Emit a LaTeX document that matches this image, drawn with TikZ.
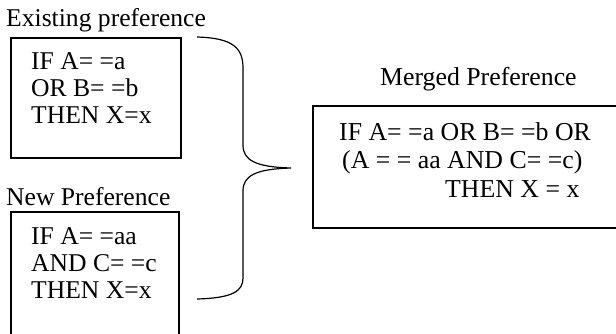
\documentclass[tikz,border=0pt]{standalone}
\usepackage{fontspec}
\setmainfont{Liberation Serif}
\begin{document}
\begin{tikzpicture}[x=1pt,y=-1pt,
  box/.style={draw,line width=1.1pt,rectangle,inner sep=0pt},
  txt/.style={inner sep=0pt,anchor=base west,align=left,font=\fontsize{25.6}{26.6}\selectfont},
  mtxt/.style={inner sep=0pt,anchor=base west,align=left,font=\fontsize{25.8}{28.5}\selectfont}]
\useasboundingbox (0,0) rectangle (616,333);
% labels
\node[txt] (lexist) at (6,26) {Existing preference};
\node[txt] (lnew) at (6,205) {New Preference};
\node[mtxt] (lmerged) at (380,85) {Merged Preference};
% boxes
\node[box,minimum width=170pt,minimum height=120pt] (b1) at (96,98) {};
\node[box,minimum width=168pt,minimum height=133pt] (b2) at (95,278.5) {};
\node[box,minimum width=309pt,minimum height=122pt] (bm) at (467.5,167) {};
% box texts (base = baseline of last line)
\node[txt] (t1) at (31,123) {IF A= =a\\OR B= =b\\THEN X=x};
\node[txt] (t2) at (31,298) {IF A= =aa\\AND C= =c\\THEN X=x};
\node[mtxt] (tm1) at (339,140) {IF A= =a OR B= =b OR};
\node[mtxt] (tm2) at (342,168) {(A = = aa AND C= =c)};
\node[mtxt] (tm3) at (445,197) {THEN X = x};
% brace
\coordinate (btop) at (197,37);
\coordinate (btip) at (291,168);
\coordinate (bbot) at (197,299);
\draw[line width=1.2pt] (btop) .. controls (233,38) and (243,48) .. (243,68)
  -- (243,145) .. controls (243,160) and (255,167) .. (btip)
  .. controls (255,169) and (243,176) .. (243,191)
  -- (243,278) .. controls (243,291) and (233,298) .. (bbot);
\end{tikzpicture}
\end{document}
